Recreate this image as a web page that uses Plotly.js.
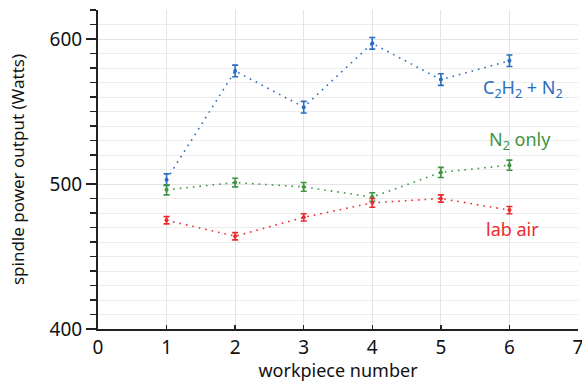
<!DOCTYPE html>
<html><head><meta charset="utf-8">
<script src="https://cdn.plot.ly/plotly-3.0.1.min.js"></script>
<style>html,body{margin:0;padding:0;background:#fff}</style>
</head><body><div id="chart" style="width:582px;height:382px"></div>
<script>
const workpieces = [1, 2, 3, 4, 5, 6];
const c2h2n2 = [503, 578, 553, 597, 572, 585];
const c2h2n2Err = [4, 4, 4, 4, 4, 4];
const n2only = [496, 501, 498, 491, 508, 513];
const n2onlyErr = [3.5, 3, 3, 3, 3.5, 3.5];
const labAir = [475, 464, 477, 487, 490, 482];
const labAirErr = [2.5, 2.5, 2.5, 3, 2.5, 2.5];
const seriesNames = ['C<sub>2</sub>H<sub>2</sub> + N<sub>2</sub>', 'N<sub>2</sub> only', 'lab air'];
const colors = ['#2c6cc0', '#3f9540', '#ec2a2e'];

function series(y, err, color, name) {
  return {
    x: workpieces, y: y, name: name, type: 'scatter', mode: 'lines+markers',
    line: {color: color, width: 1.6, dash: '1.6px,5px'},
    marker: {color: color, size: 4},
    error_y: {type: 'data', array: err, visible: true, color: color, thickness: 1.6, width: 3},
    showlegend: false
  };
}
const data = [
  series(c2h2n2, c2h2n2Err, colors[0], seriesNames[0]),
  series(n2only, n2onlyErr, colors[1], seriesNames[1]),
  series(labAir, labAirErr, colors[2], seriesNames[2])
];
const font = "'Noto Sans', 'Open Sans', sans-serif";
const layout = {
  width: 582, height: 382,
  margin: {l: 98, r: 4, t: 10, b: 53},
  paper_bgcolor: '#fff', plot_bgcolor: '#fff',
  font: {family: font, color: '#111', size: 18},
  xaxis: {
    range: [0, 7], dtick: 1, tick0: 0, showgrid: true, gridcolor: '#e4e4e4', gridwidth: 1,
    zeroline: false, showline: true, linecolor: '#222', linewidth: 2,
    ticks: 'inside', ticklen: 4, tickwidth: 1.5, tickcolor: '#222',
    ticklabeloverflow: 'allow',
    tickfont: {size: 19, family: font},
    title: {text: 'workpiece number', font: {size: 18, family: font}, standoff: 0}
  },
  yaxis: {
    range: [400, 620], dtick: 100, tick0: 400, showgrid: true, gridcolor: '#e4e4e4',
    zeroline: false, showline: true, linecolor: '#222', linewidth: 2,
    ticks: 'outside', ticklen: 10, tickwidth: 1.5, tickcolor: '#222',
    tickfont: {size: 19, family: font},
    minor: {dtick: 10, ticks: 'outside', ticklen: 6, tickwidth: 1.5, tickcolor: '#222', showgrid: true, gridcolor: '#ececec'},
    title: {text: 'spindle power output (Watts)', font: {size: 17, family: font}, standoff: 21}
  },
  annotations: [
    {x: 6.2, y: 566, xref: 'x', yref: 'y', text: seriesNames[0], showarrow: false, font: {color: colors[0], size: 18, family: font}},
    {x: 6.15, y: 530, xref: 'x', yref: 'y', text: seriesNames[1], showarrow: false, font: {color: colors[1], size: 18, family: font}},
    {x: 6.05, y: 469, xref: 'x', yref: 'y', text: seriesNames[2], showarrow: false, font: {color: colors[2], size: 18, family: font}}
  ]
};
Plotly.newPlot('chart', data, layout, {displayModeBar: false, staticPlot: true});
</script></body></html>
